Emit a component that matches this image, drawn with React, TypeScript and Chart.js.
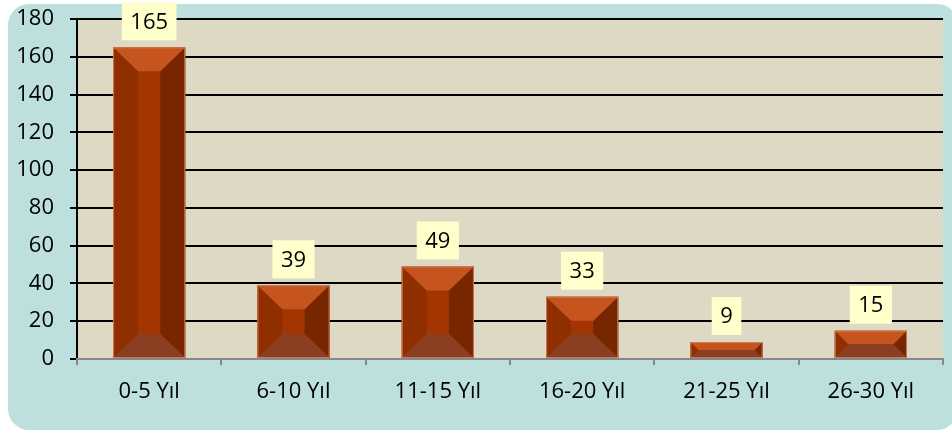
import React, { useEffect, useRef } from "react";
import { Chart, registerables } from "chart.js";

Chart.register(...registerables);

const categories = ["0-5 Yıl", "6-10 Yıl", "11-15 Yıl", "16-20 Yıl", "21-25 Yıl", "26-30 Yıl"];
const counts = [165, 39, 49, 33, 9, 15];
const yMin = 0;
const yMax = 180;
const yStep = 20;

const FONT = '"Open Sans", "Noto Sans", sans-serif';

const backgroundPlugin = {
  id: "bgPlugin",
  beforeDraw(chart: any) {
    const ctx = chart.ctx;
    const ca = chart.chartArea;
    ctx.save();
    ctx.fillStyle = "#bddfde";
    ctx.beginPath();
    ctx.roundRect(8, 4, 950, 426, 21);
    ctx.fill();
    ctx.fillStyle = "#ddd9c4";
    ctx.fillRect(ca.left, ca.top, ca.right - ca.left, ca.bottom - ca.top);
    ctx.restore();
  },
};

const bevelPlugin = {
  id: "bevelPlugin",
  afterDatasetsDraw(chart: any) {
    const ctx = chart.ctx;
    const meta = chart.getDatasetMeta(0);
    ctx.save();
    meta.data.forEach((el: any) => {
      const props = el.getProps(["x", "y", "base", "width"], true);
      const l = props.x - props.width / 2;
      const r = props.x + props.width / 2;
      const t = Math.min(props.y, props.base);
      const b = Math.max(props.y, props.base);
      const h = b - t;
      const dv = Math.min(24, h / 2);
      const dh = Math.min(25, h / 2, props.width / 2);
      const poly = (pts: number[][], color: string) => {
        ctx.fillStyle = color;
        ctx.beginPath();
        ctx.moveTo(pts[0][0], pts[0][1]);
        for (let i = 1; i < pts.length; i++) ctx.lineTo(pts[i][0], pts[i][1]);
        ctx.closePath();
        ctx.fill();
      };
      ctx.fillStyle = "#a33600";
      ctx.fillRect(l, t, r - l, h);
      poly([[l, t], [l + dh, t + dv], [l + dh, b - dv], [l, b]], "#8f2f00");
      poly([[r, t], [r, b], [r - dh, b - dv], [r - dh, t + dv]], "#772600");
      poly([[l, t], [r, t], [r - dh, t + dv], [l + dh, t + dv]], "#c5541f");
      poly([[l, b], [l + dh, b - dv], [r - dh, b - dv], [r, b]], "#8b3f22");
      ctx.strokeStyle = "rgba(205,130,95,0.9)";
      ctx.lineWidth = 1;
      ctx.strokeRect(l + 0.5, t + 0.5, r - l - 1, h - 1);
    });
    ctx.restore();
  },
};

const labelPlugin = {
  id: "labelPlugin",
  afterDraw(chart: any) {
    const ctx = chart.ctx;
    const meta = chart.getDatasetMeta(0);
    ctx.save();
    ctx.font = `22px ${FONT}`;
    ctx.textAlign = "center";
    ctx.textBaseline = "middle";
    meta.data.forEach((el: any, i: number) => {
      const text = String(counts[i]);
      const tw = ctx.measureText(text).width;
      const w = tw + 17;
      const h = 38;
      const cy = el.y - 26;
      ctx.fillStyle = "#ffffcc";
      ctx.fillRect(el.x - w / 2, cy - h / 2, w, h);
      ctx.fillStyle = "#000000";
      ctx.fillText(text, el.x, cy + 1);
    });
    ctx.restore();
  },
};

export default function App() {
  const canvasRef = useRef<HTMLCanvasElement | null>(null);

  useEffect(() => {
    if (!canvasRef.current) return;
    const chart = new Chart(canvasRef.current, {
      type: "bar",
      data: {
        labels: categories,
        datasets: [
          {
            data: counts,
            backgroundColor: "rgba(0,0,0,0)",
            borderWidth: 0,
            barPercentage: 0.5,
            categoryPercentage: 1,
          },
        ],
      },
      options: {
        responsive: false,
        animation: false,
        devicePixelRatio: 1,
        layout: { padding: { top: 19, right: 9, left: 0, bottom: 0 } },
        plugins: {
          legend: { display: false },
          tooltip: { enabled: false },
          title: { display: false },
        },
        scales: {
          x: {
            grid: {
              display: true,
              drawOnChartArea: false,
              drawTicks: true,
              tickLength: 6,
              color: "#888888",
              lineWidth: 2,
            },
            border: { display: true, color: "#888888", width: 2, z: 1 },
            ticks: {
              color: "#000000",
              font: { family: FONT, size: 22 },
              padding: 14,
              autoSkip: false,
              maxRotation: 0,
            },
            afterFit(scale: any) {
              scale.height = 74;
              scale.paddingLeft = 0;
              scale.paddingRight = 0;
            },
          },
          y: {
            min: yMin,
            max: yMax,
            grid: {
              color: "#000000",
              lineWidth: 2,
              tickLength: 7,
              drawTicks: true,
            },
            border: { display: true, color: "#000000", width: 2 },
            ticks: {
              stepSize: yStep,
              color: "#000000",
              font: { family: FONT, size: 22 },
              padding: 16,
            },
            afterFit(scale: any) {
              scale.width = 77;
              scale.paddingTop = 0;
              scale.paddingBottom = 0;
            },
          },
        },
      },
      plugins: [backgroundPlugin, bevelPlugin, labelPlugin],
    });
    return () => chart.destroy();
  }, []);

  return (
    <div style={{ position: "absolute", left: 0, top: 0, width: 952, height: 433, overflow: "hidden" }}>
      <canvas ref={canvasRef} width={952} height={433} style={{ display: "block" }} />
    </div>
  );
}
